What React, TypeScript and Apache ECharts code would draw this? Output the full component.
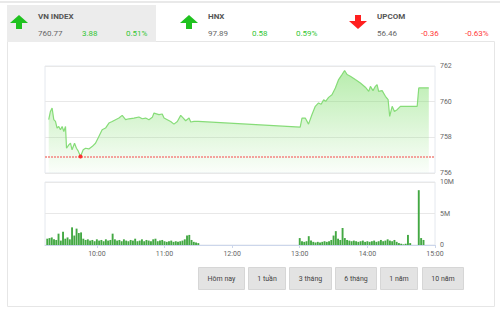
import React, { useEffect, useRef } from "react";
import * as echarts from "echarts";

// ---- Data ----
const tickMinutes = [60, 120, 180, 240, 300, 360];
const tickLabels = ["10:00", "11:00", "12:00", "13:00", "14:00", "15:00"];

// price: minutes after 9:00, index value
const priceTimes = [
  17.3, 18.8, 20.3, 21.8, 23.3, 24.7, 26.2, 27.7, 29.2, 30.7, 32.2, 33.1, 35.1, 36.6, 38.0, 40.2, 41.9, 43.4,
  45.5, 47.9, 50.0, 52.9, 55.8, 58.8, 61.8, 64.7, 67.7, 70.7, 73.6, 76.6, 79.6, 82.5, 85.5, 88.4, 92.9, 97.3,
  100.3, 103.3, 106.2, 109.2, 110.7, 115.1, 118.0, 119.6, 122.5, 125.5, 128.4, 131.4, 134.4, 136.7, 138.8,
  141.8, 143.3, 146.2, 150.0,
  240.4, 242.0, 244.9, 247.8, 250.8, 253.8, 256.7, 259.0, 261.2, 263.0, 265.6, 268.6, 271.6, 274.5, 277.5,
  279.8, 282.0, 284.9, 289.3, 293.8, 298.2, 301.2, 302.7, 305.0, 307.1, 308.6, 310.0, 313.1, 316.0, 318.4,
  319.8, 322.0, 324.0, 326.4, 329.3, 344.2, 345.6, 354.5,
];
const priceValues = [
  758.99, 759.45, 759.64, 758.99, 758.89, 758.52, 758.61, 758.42, 758.61, 758.33, 758.61, 757.39, 757.58,
  757.67, 757.3, 757.67, 757.39, 757.24, 756.92, 757.3, 757.39, 757.35, 757.48, 757.67, 758.05, 758.42,
  758.52, 758.8, 758.89, 758.99, 759.08, 759.23, 758.99, 759.04, 759.08, 759.14, 759.04, 759.08, 758.99,
  759.12, 759.36, 759.27, 759.31, 759.08, 758.99, 758.89, 758.74, 758.89, 759.23, 759.08, 758.93, 759.08,
  758.86, 758.89, 758.89,
  758.57, 759.08, 759.08, 758.74, 759.27, 759.74, 759.93, 759.85, 760.11, 760.02, 760.24, 760.39, 760.77,
  761.24, 761.52, 761.75, 761.52, 761.43, 761.24, 761.05, 760.81, 760.58, 760.86, 760.62, 760.86, 760.96,
  760.58, 760.62, 760.3, 760.11, 759.17, 759.74, 759.45, 759.55, 759.74, 759.74, 760.77, 760.77,
];
const prevClose = 756.89;
const lowPoint = [45.5, 756.92];

// volume (millions) per 2-minute bucket
const volTimes = [
  16, 18, 20, 22, 24, 26, 28, 30, 32, 34, 36, 38, 40, 42, 44, 46, 48, 50, 52, 54, 56, 58, 60, 62, 64, 66, 68,
  70, 72, 74, 76, 78, 80, 82, 84, 86, 88, 90, 92, 94, 96, 98, 100, 102, 104, 106, 108, 110, 112, 114, 116, 118,
  120, 122, 124, 126, 128, 130, 132, 134, 136, 138, 140, 142, 144, 146, 148, 150,
  240, 242, 244, 246, 248, 250, 252, 254, 256, 258, 260, 262, 264, 266, 268, 270, 272, 274, 276, 278, 280,
  282, 284, 286, 288, 290, 292, 294, 296, 298, 300, 302, 304, 306, 308, 310, 312, 314, 316, 318, 320, 322,
  324, 326, 328, 330, 332, 334, 336, 338, 345.6, 347.7, 349.8,
];
const volValues = [
  1.0, 1.1, 1.2, 0.9, 0.8, 1.8, 0.7, 2.1, 1.0, 1.2, 0.9, 2.8, 1.5, 2.6, 1.9, 2.0, 1.0, 0.8, 0.9, 0.7, 0.8,
  0.6, 0.9, 0.7, 0.8, 0.6, 0.9, 0.7, 0.8, 1.8, 0.9, 0.7, 0.8, 0.6, 0.9, 0.7, 0.6, 0.8, 0.7, 1.0, 0.6, 0.7,
  0.9, 0.6, 0.8, 0.7, 0.6, 0.9, 1.0, 0.6, 0.7, 0.8, 0.6, 0.5, 0.6, 0.7, 0.5, 0.6, 0.5, 0.6, 0.7, 0.9, 1.5,
  1.6, 0.8, 0.5, 0.4, 0.3,
  1.1, 0.6, 0.5, 0.6, 1.4, 0.7, 0.5, 0.4, 0.5, 0.4, 0.5, 0.6, 0.5, 0.6, 0.8, 1.5, 2.2, 1.0, 0.8, 2.7, 1.1,
  0.8, 0.7, 0.6, 0.7, 0.6, 0.5, 0.6, 0.7, 0.5, 0.6, 0.5, 0.6, 0.7, 0.5, 0.6, 0.8, 0.6, 0.7, 0.9, 0.7, 0.6,
  0.8, 0.5, 0.3, 0.2, 0.1, 0.2, 1.6, 0.3, 8.7, 1.1, 0.8,
];

// header
const indexNames = ["VN INDEX", "HNX", "UPCOM"];
const indexValues = ["760.77", "97.89", "56.46"];
const indexChanges = ["3.88", "0.58", "-0.36"];
const indexPercents = ["0.51%", "0.59%", "-0.63%"];
const indexUp = [true, true, false];

const rangeButtons = ["Hôm nay", "1 tuần", "3 tháng", "6 tháng", "1 năm", "10 năm"];

const FONT = "Roboto, 'Liberation Sans', sans-serif";

export default function App() {
  const ref = useRef<HTMLDivElement>(null);

  useEffect(() => {
    if (!ref.current) return;
    const chart = echarts.init(ref.current, null, { renderer: "svg" });

    const graphics: any[] = [];
    graphics.push({ type: "rect", shape: { x: 0, y: 1, width: 500, height: 2 }, style: { fill: "#e9e9e9" }, silent: true });
    graphics.push({
      type: "rect",
      shape: { x: 7.5, y: 41.5, width: 487, height: 265 },
      style: { fill: "none", stroke: "#e6e6e6", lineWidth: 1 },
      silent: true,
    });
    graphics.push({ type: "rect", shape: { x: 7, y: 5, width: 149, height: 37 }, style: { fill: "#ececec" }, silent: true });

    const colX = [10, 180, 349];
    indexNames.forEach((name, i) => {
      const ax = colX[i];
      const cx = ax + 9;
      const up = indexUp[i];
      const col = up ? "#1fc21f" : "#ff1f1f";
      const pts = up
        ? [[cx, 15], [cx + 9, 23], [cx + 3, 23], [cx + 3, 29], [cx - 3, 29], [cx - 3, 23], [cx - 9, 23]]
        : [[cx, 29], [cx + 9, 21], [cx + 3, 21], [cx + 3, 15], [cx - 3, 15], [cx - 3, 21], [cx - 9, 21]];
      graphics.push({ type: "polygon", shape: { points: pts }, style: { fill: col }, silent: true });
      const tx = ax + 28;
      const tcol = up ? "#33c633" : "#ff3b3b";
      graphics.push({
        type: "text",
        style: { text: name, x: tx, y: 16, fontSize: 8, fontWeight: "bold", fontFamily: FONT, fill: "#555", verticalAlign: "middle" },
        silent: true,
      });
      graphics.push({
        type: "text",
        style: { text: indexValues[i], x: tx, y: 33, fontSize: 8, fontFamily: FONT, fill: "#666", verticalAlign: "middle" },
        silent: true,
      });
      graphics.push({
        type: "text",
        style: { text: indexChanges[i], x: tx + 44, y: 33, fontSize: 8, fontFamily: FONT, fill: tcol, verticalAlign: "middle" },
        silent: true,
      });
      graphics.push({
        type: "text",
        style: { text: indexPercents[i], x: tx + 88, y: 33, fontSize: 8, fontFamily: FONT, fill: tcol, verticalAlign: "middle" },
        silent: true,
      });
    });

    const btnX = [198, 248, 289, 335, 380, 422];
    const btnW = [46, 37, 42, 41, 37, 41];
    rangeButtons.forEach((b, i) => {
      graphics.push({
        type: "rect",
        shape: { x: btnX[i] + 0.5, y: 267.5, width: btnW[i], height: 22 },
        style: { fill: "#e3e3e3", stroke: "#d6d6d6", lineWidth: 1 },
        silent: true,
      });
      graphics.push({
        type: "text",
        style: {
          text: b,
          x: btnX[i] + btnW[i] / 2 + 0.5,
          y: 278.5,
          fontSize: 7,
          fontFamily: FONT,
          fill: "#444",
          align: "center",
          verticalAlign: "middle",
        },
        silent: true,
      });
    });

    const priceData = priceTimes.map((t, i) => [t, priceValues[i]]);
    const volData = volTimes.map((t, i) => [t, volValues[i]]);

    const option: any = {
      animation: false,
      backgroundColor: "#fff",
      textStyle: { fontFamily: FONT },
      graphic: graphics,
      grid: [
        { left: 45, top: 66, width: 390, height: 107, show: true, borderColor: "#e4e8ee", borderWidth: 1, backgroundColor: "transparent" },
        { left: 45, top: 182, width: 390, height: 63, show: true, borderColor: "#e4e8ee", borderWidth: 1, backgroundColor: "transparent" },
      ],
      xAxis: [
        {
          type: "value",
          gridIndex: 0,
          min: 14,
          max: 360,
          axisLabel: { show: false },
          axisTick: { show: false },
          axisLine: { show: false },
          splitLine: { show: false },
        },
        {
          type: "value",
          gridIndex: 1,
          min: 14,
          max: 360,
          axisLine: { show: true, onZero: false, lineStyle: { color: "#ccd6eb" } },
          axisTick: { show: true, customValues: tickMinutes, length: 3, lineStyle: { color: "#ccd6eb" } },
          axisLabel: {
            customValues: tickMinutes,
            formatter: (v: number) => {
              const idx = tickMinutes.indexOf(Math.round(v));
              return idx >= 0 ? tickLabels[idx] : "";
            },
            fontSize: 7,
            color: "#666",
            margin: 5,
          },
          splitLine: { show: false },
        },
      ],
      yAxis: [
        {
          type: "value",
          gridIndex: 0,
          position: "right",
          min: 756,
          max: 762,
          interval: 2,
          axisLine: { show: false },
          axisTick: { show: false },
          axisLabel: { fontSize: 7, color: "#666", margin: 5 },
          splitLine: { lineStyle: { color: "#e8e8e8" } },
        },
        {
          type: "value",
          gridIndex: 1,
          position: "right",
          min: 0,
          max: 10,
          interval: 5,
          axisLine: { show: false },
          axisTick: { show: false },
          axisLabel: { fontSize: 7, color: "#666", margin: 5, formatter: (v: number) => (v === 0 ? "0" : v + "M") },
          splitLine: { lineStyle: { color: "#e8e8e8" } },
        },
      ],
      series: [
        {
          type: "line",
          xAxisIndex: 0,
          yAxisIndex: 0,
          data: priceData,
          symbol: "none",
          lineStyle: { color: "#86dc78", width: 1.2 },
          areaStyle: {
            origin: "start",
            color: new echarts.graphic.LinearGradient(0, 0, 0, 1, [
              { offset: 0, color: "rgba(120,220,100,0.75)" },
              { offset: 1, color: "rgba(120,220,100,0.04)" },
            ]),
          },
          markLine: {
            silent: true,
            symbol: "none",
            label: { show: false },
            lineStyle: { color: "#f3a29c", width: 2, type: [2, 1] },
            data: [{ yAxis: prevClose }],
          },
          markPoint: {
            silent: true,
            symbol: "circle",
            symbolSize: 4,
            label: { show: false },
            itemStyle: { color: "#ff3030" },
            data: [{ coord: lowPoint }],
          },
        },
        {
          type: "bar",
          xAxisIndex: 1,
          yAxisIndex: 1,
          data: volData,
          barWidth: 1.9,
          itemStyle: { color: "#43a843" },
        },
      ],
    };
    chart.setOption(option);
    return () => chart.dispose();
  }, []);

  return (
    <div
      ref={ref}
      style={{ position: "absolute", left: 0, top: 0, width: 500, height: 312, background: "#fff" }}
    />
  );
}
